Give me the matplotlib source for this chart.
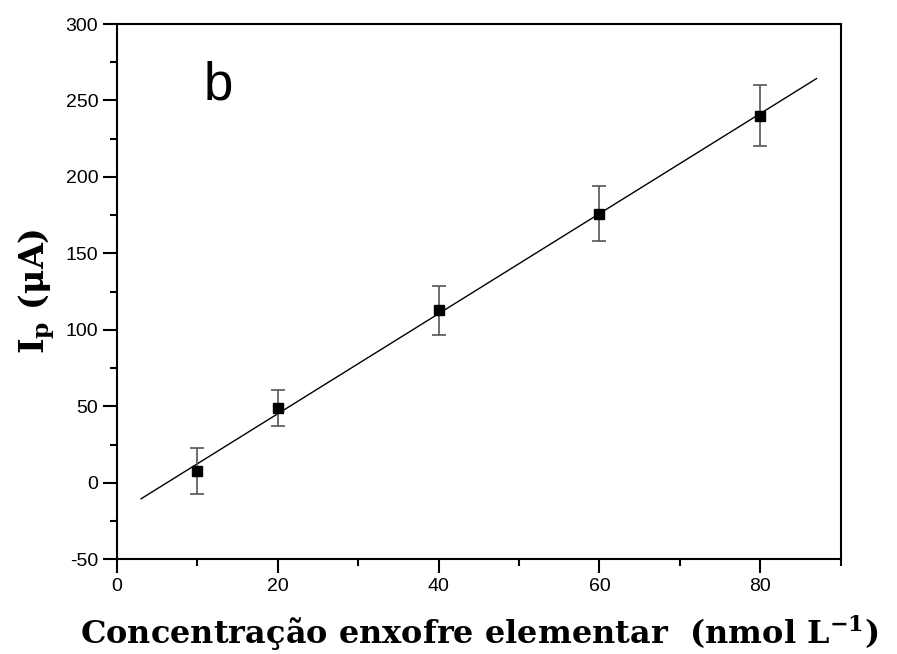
import numpy as np
import matplotlib
matplotlib.use("Agg")
import matplotlib.pyplot as plt

plt.rcParams["font.family"] = ["Liberation Sans", "DejaVu Sans"]
plt.rcParams["axes.unicode_minus"] = False
plt.rcParams["mathtext.fontset"] = "custom"
plt.rcParams["mathtext.rm"] = "DejaVu Serif"
plt.rcParams["mathtext.bf"] = "DejaVu Serif:bold"

conc = [10, 20, 40, 60, 80]
current = [8, 49, 112.7, 176, 240]
err = [15, 12, 16, 18, 20]
fit_range = [3, 87]

x_ticks = [0, 20, 40, 60, 80]
y_ticks = [-50, 0, 50, 100, 150, 200, 250, 300]

fig = plt.figure(figsize=(8.97, 6.54), dpi=100)
ax = fig.add_axes([0.1304, 0.1448, 0.8068, 0.8185])

slope, intercept = np.polyfit(conc, current, 1)
lx = np.array(fit_range, dtype=float)
ax.plot(lx, slope * lx + intercept, color="black", lw=1.0)

ax.errorbar(conc, current, yerr=err, fmt="s", color="black", ms=7,
            ecolor="#555555", elinewidth=1.2, capsize=5, capthick=1.2)

ax.set_xlim(0, 90)
ax.set_ylim(-50, 300)
ax.set_xticks(x_ticks)
ax.set_xticks([10, 30, 50, 70, 90], minor=True)
ax.set_yticks(y_ticks)
ax.set_yticks([-25, 25, 75, 125, 175, 225, 275], minor=True)
ax.tick_params(which="major", direction="out", length=10, width=1.5,
               labelsize=14, top=False, right=False)
ax.tick_params(which="minor", direction="out", length=5, width=1.5,
               top=False, right=False)
for s in ax.spines.values():
    s.set_linewidth(1.5)

ax.text(0.14, 0.885, "b", transform=ax.transAxes, fontsize=38,
        family="Liberation Sans", ha="center", va="center")

ax.set_xlabel(r"Concentração enxofre elementar  (nmol L$^{\mathbf{-1}}$)",
              family="DejaVu Serif", fontweight="bold", fontsize=23, labelpad=13)
ax.set_ylabel(r"I$_{\mathbf{p}}$ (μA)", family="DejaVu Serif",
              fontweight="bold", fontsize=24, labelpad=6)

fig.savefig("out.png", dpi=100)
